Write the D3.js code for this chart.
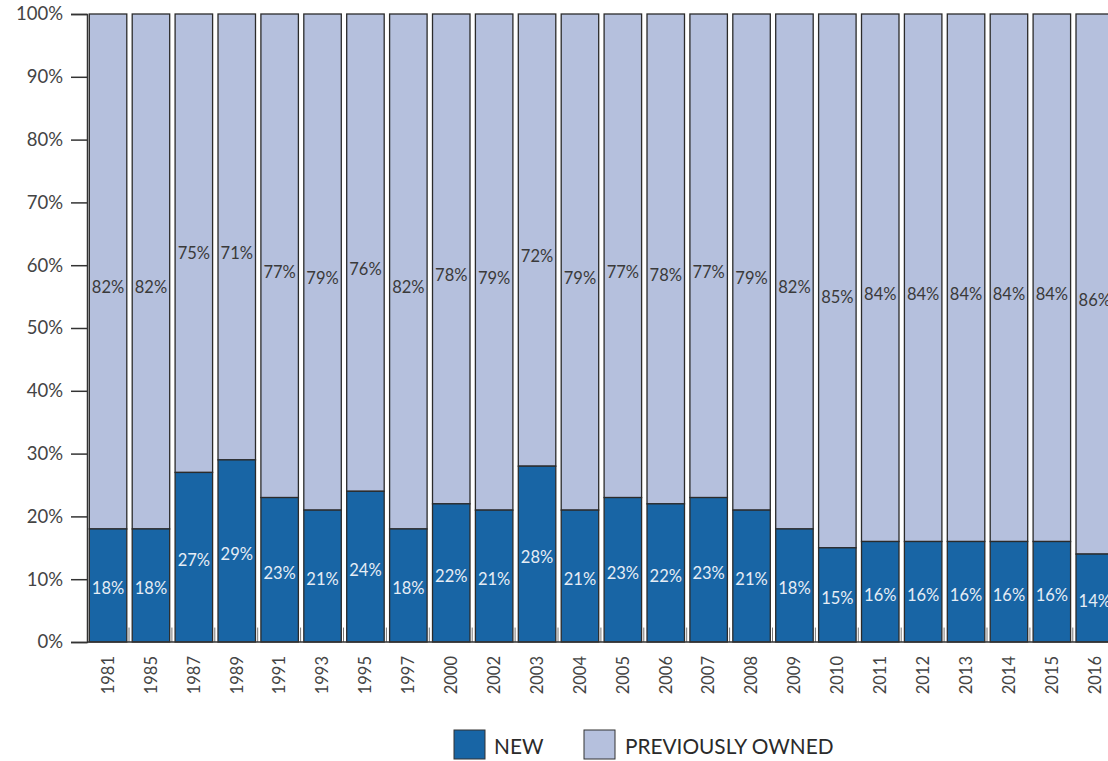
<!DOCTYPE html>
<html>
<head>
<meta charset="utf-8">
<script src="https://cdn.jsdelivr.net/npm/d3@7"></script>
<style>
  html, body { margin: 0; padding: 0; background: #fff; }
  svg { display: block; font-family: Lato, "Open Sans", sans-serif; }
</style>
</head>
<body>
<svg id="chart" width="1108" height="761"></svg>
<script>
const years = ["1981","1985","1987","1989","1991","1993","1995","1997","2000","2002","2003","2004","2005","2006","2007","2008","2009","2010","2011","2012","2013","2014","2015","2016"];
const newVals = [18,18,27,29,23,21,24,18,22,21,28,21,23,22,23,21,18,15,16,16,16,16,16,14];
const prevVals = [82,82,75,71,77,79,76,82,78,79,72,79,77,78,77,79,82,85,84,84,84,84,84,86];
const yTicks = [0,10,20,30,40,50,60,70,80,90,100];
const seriesNames = ["NEW", "PREVIOUSLY OWNED"];

const colNew = "#1865a5";
const colPrev = "#b5c0dd";
const stroke = "#2b2b2b";

const svg = d3.select("#chart");

const x = d3.scaleBand().domain(years).range([86.6, 1116.2]).paddingInner(0.126).paddingOuter(0.063);
const y = d3.scaleLinear().domain([0, 100]).range([642, 14]);

const data = years.map((yr, i) => ({ year: yr, nv: newVals[i], pv: prevVals[i] }));

// previously owned bars (new -> 100)
svg.append("g").selectAll("rect").data(data).join("rect")
  .attr("x", d => x(d.year))
  .attr("width", x.bandwidth())
  .attr("y", y(100))
  .attr("height", d => y(d.nv) - y(100))
  .attr("fill", colPrev)
  .attr("stroke", stroke)
  .attr("stroke-width", 1.3);

// new bars
svg.append("g").selectAll("rect").data(data).join("rect")
  .attr("x", d => x(d.year))
  .attr("width", x.bandwidth())
  .attr("y", d => y(d.nv))
  .attr("height", d => y(0) - y(d.nv))
  .attr("fill", colNew)
  .attr("stroke", stroke)
  .attr("stroke-width", 1.3);

// small separators at bottom between bars
svg.append("g").selectAll("line").data(years.slice(1)).join("line")
  .attr("x1", d => x(d) - x.step() * x.paddingInner() / 2 - 0.5)
  .attr("x2", d => x(d) - x.step() * x.paddingInner() / 2 - 0.5)
  .attr("y1", y(2.3))
  .attr("y2", y(0))
  .attr("stroke", "#777")
  .attr("stroke-width", 1);

// labels
svg.append("g").selectAll("text").data(data).join("text")
  .attr("x", d => x(d.year) + x.bandwidth() / 2)
  .attr("y", d => y(d.nv / 2) + 3)
  .attr("text-anchor", "middle")
  .attr("dominant-baseline", "central")
  .attr("font-size", 16.5)
  .attr("fill", "#e6edf5")
  .text(d => d.nv + "%");

svg.append("g").selectAll("text").data(data).join("text")
  .attr("x", d => x(d.year) + x.bandwidth() / 2)
  .attr("y", d => y(d.nv + d.pv / 2) + 16)
  .attr("text-anchor", "middle")
  .attr("dominant-baseline", "central")
  .attr("font-size", 16.5)
  .attr("fill", "#3a3a3a")
  .text(d => d.pv + "%");

// y axis
const yAxis = d3.axisLeft(y).tickValues(yTicks).tickFormat(d => d + "%").tickSize(16).tickPadding(8);
const gy = svg.append("g").attr("transform", "translate(87,0)").call(yAxis);
gy.select(".domain").attr("stroke", "#333").attr("stroke-width", 1.5);
gy.selectAll(".tick line").attr("stroke", "#333").attr("stroke-width", 1.5);
gy.selectAll(".tick text").attr("font-size", 18.5).attr("fill", "#444").attr("font-family", "Lato, 'Open Sans', sans-serif");

// x axis baseline
svg.append("line")
  .attr("x1", 87).attr("x2", 1108)
  .attr("y1", y(0)).attr("y2", y(0))
  .attr("stroke", "#333").attr("stroke-width", 1.5);

// x labels
const xAxis = d3.axisBottom(x).tickSize(0).tickPadding(0);
const gx = svg.append("g").attr("transform", `translate(0,${y(0)})`).call(xAxis);
gx.select(".domain").remove();
gx.selectAll(".tick text")
  .attr("font-size", 16.5)
  .attr("fill", "#444")
  .attr("font-family", "Lato, 'Open Sans', sans-serif")
  .attr("transform", "translate(0,14) rotate(-90)")
  .attr("text-anchor", "end")
  .attr("dy", "0.35em")
  .attr("y", 0)
  .attr("x", 0);

// legend
const legendItems = [
  { name: seriesNames[0], color: colNew, bx: 454, tx: 494 },
  { name: seriesNames[1], color: colPrev, bx: 584, tx: 625 }
];
const lg = svg.append("g");
lg.selectAll("rect").data(legendItems).join("rect")
  .attr("x", d => d.bx).attr("y", 730)
  .attr("width", 31).attr("height", 29)
  .attr("fill", d => d.color)
  .attr("stroke", "#333").attr("stroke-width", 1);
lg.selectAll("text").data(legendItems).join("text")
  .attr("x", d => d.tx).attr("y", 745)
  .attr("dominant-baseline", "central")
  .attr("font-size", 20.8)
  .attr("fill", "#2a2a2a")
  .text(d => d.name);
</script>
</body>
</html>
